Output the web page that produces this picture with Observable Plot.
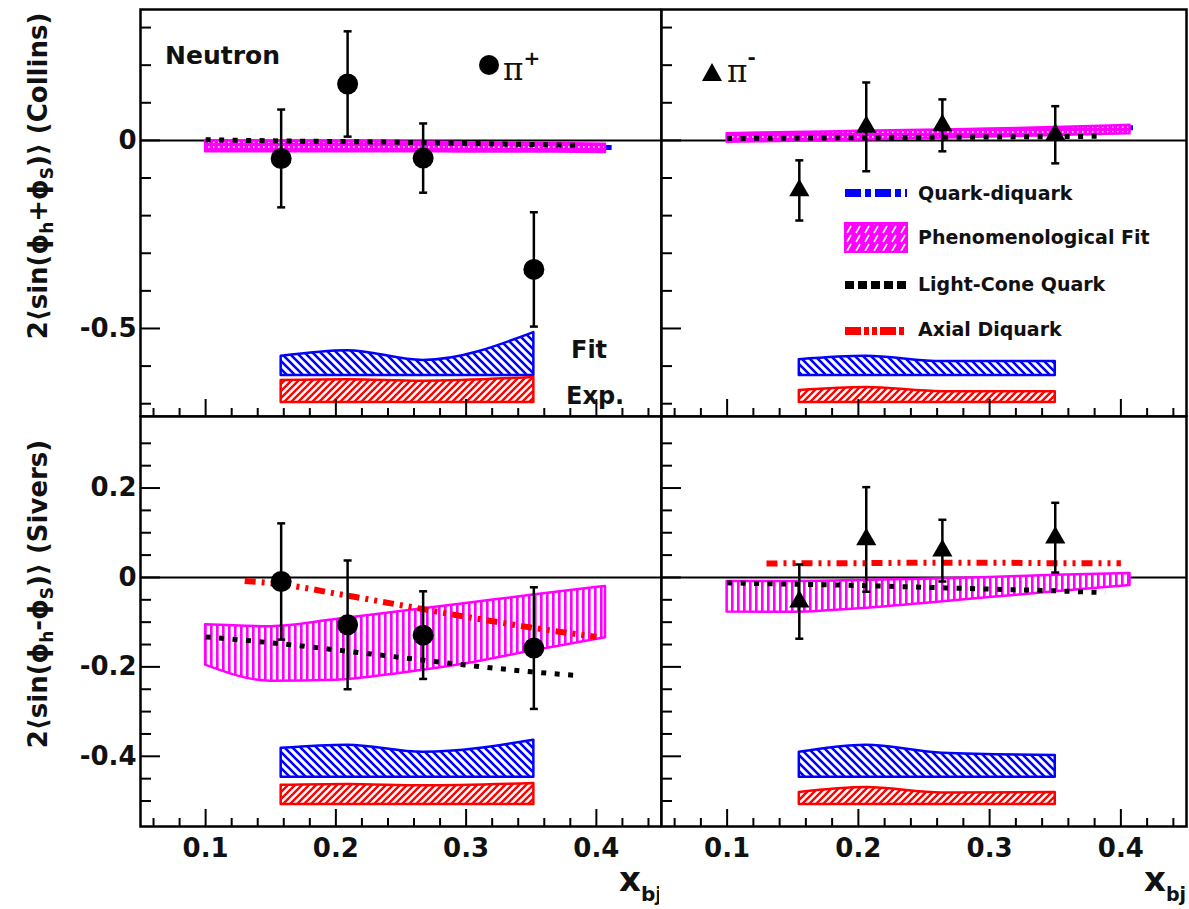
<!DOCTYPE html>
<html><head><meta charset="utf-8">
<script src="https://cdn.jsdelivr.net/npm/d3@7"></script>
<script src="https://cdn.jsdelivr.net/npm/@observablehq/plot@0.6"></script>
<style>
html,body{margin:0;padding:0;background:#fff;}
#wrap{position:relative;width:1189px;height:909px;overflow:hidden;background:#fff;}
#overlay{position:absolute;left:0;top:0;z-index:2;pointer-events:none;}
</style></head>
<body>
<div id="wrap">
<svg width="0" height="0" style="position:absolute">
<defs>
 <pattern id="hatchBlue" patternUnits="userSpaceOnUse" width="8" height="8">
   <rect width="8" height="8" fill="#fff"/>
   <path d="M0,0 L8,8 M-2,6 L2,10 M6,-2 L10,2" stroke="#0000ff" stroke-width="2.6"/>
 </pattern>
 <pattern id="hatchRed" patternUnits="userSpaceOnUse" width="7" height="7">
   <rect width="7" height="7" fill="#fff"/>
   <path d="M0,7 L7,0 M-2,2 L2,-2 M5,9 L9,5" stroke="#ff0000" stroke-width="2.4"/>
 </pattern>
 <pattern id="hatchMag" patternUnits="userSpaceOnUse" width="6" height="6">
   <rect width="6" height="6" fill="#fff"/>
   <rect x="0" width="2.6" height="6" fill="#ff00ff"/>
 </pattern>
 <pattern id="hatchMagDense" patternUnits="userSpaceOnUse" width="5" height="5">
   <rect width="5" height="5" fill="#ff00ff"/>
   <rect x="3" y="1" width="1.5" height="2" fill="#ffd0ff"/>
 </pattern>
 <pattern id="hatchMagLegend" patternUnits="userSpaceOnUse" width="9" height="9">
   <rect width="9" height="9" fill="#ff00ff"/>
   <path d="M1,8 L5,1" stroke="#fff" stroke-width="1.6"/>
 </pattern>
</defs></svg>

<svg id="overlay" width="1189" height="909" font-family="DejaVu Sans" font-weight="bold" fill="#111">
  <defs><clipPath id="clipL"><rect x="0" y="0" width="659" height="909"/></clipPath></defs>
  <!-- panel annotations -->
  <text x="165" y="64" font-size="25">Neutron</text>
  <circle cx="489" cy="65" r="10" fill="#000"/>
  <text x="503" y="80" font-size="31" font-family="DejaVu Serif" font-weight="normal">π<tspan dy="-15" font-size="20" font-family="DejaVu Sans" font-weight="bold">+</tspan></text>
  <path d="M702,81 L722,81 L712,63 Z" fill="#000"/>
  <text x="727" y="82" font-size="31" font-family="DejaVu Serif" font-weight="normal">π<tspan dy="-18" font-size="20" font-family="DejaVu Sans" font-weight="bold">-</tspan></text>
  <text x="571" y="358" font-size="24">Fit</text>
  <text x="566" y="404" font-size="24">Exp.</text>
  <!-- legend -->
  <line x1="845" x2="907" y1="193" y2="193" stroke="#0000ff" stroke-width="8" stroke-dasharray="16,4,6,4"/>
  <text x="918" y="200" font-size="19">Quark-diquark</text>
  <rect x="845" y="223" width="62" height="29" fill="url(#hatchMagLegend)" stroke="#ff00ff" stroke-width="2"/>
  <text x="918" y="244" font-size="19">Phenomenological Fit</text>
  <line x1="845" x2="907" y1="285" y2="285" stroke="#000" stroke-width="8" stroke-dasharray="9,4"/>
  <text x="918" y="291" font-size="19">Light-Cone Quark</text>
  <line x1="845" x2="907" y1="331" y2="331" stroke="#ff0000" stroke-width="8" stroke-dasharray="16,3,5,3,5,3"/>
  <text x="918" y="336" font-size="19">Axial Diquark</text>
  <!-- y titles -->
  <text transform="translate(47,176) rotate(-90)" text-anchor="middle" font-size="26">2⟨sin(ϕ<tspan font-size="17" dy="6">h</tspan><tspan dy="-6">+ϕ</tspan><tspan font-size="17" dy="6">S</tspan><tspan dy="-6">)⟩ (Collins)</tspan></text>
  <text transform="translate(47,594) rotate(-90)" text-anchor="middle" font-size="26">2⟨sin(ϕ<tspan font-size="17" dy="6">h</tspan><tspan dy="-6">-ϕ</tspan><tspan font-size="17" dy="6">S</tspan><tspan dy="-6">)⟩ (Sivers)</tspan></text>
  <!-- x titles -->
  <g clip-path="url(#clipL)"><text x="619" y="891" font-size="34">x<tspan font-size="20" dy="10">bj</tspan></text></g>
  <text x="1144" y="891" font-size="34">x<tspan font-size="19" dy="10">bj</tspan></text>
</svg>
</div>
<script>
// ---------------- data ----------------
const xPiPlus  = [0.158, 0.209, 0.267, 0.352];
const xPiMinus = [0.155, 0.206, 0.264, 0.350];

const collinsPiPlus     = [-0.048, 0.150, -0.047, -0.343];
const collinsPiPlusErr  = [0.130, 0.140, 0.092, 0.152];
const collinsPiMinus    = [-0.133, 0.036, 0.040, 0.015];
const collinsPiMinusErr = [0.080, 0.118, 0.069, 0.076];
const siversPiPlus      = [-0.009, -0.106, -0.129, -0.158];
const siversPiPlusErr   = [0.130, 0.144, 0.098, 0.136];
const siversPiMinus     = [-0.054, 0.085, 0.060, 0.089];
const siversPiMinusErr  = [0.083, 0.117, 0.069, 0.078];

// systematic error bands: Fit (blue) and Exp. (red)
const collinsFitBase = -0.625, collinsExpBase = -0.697;
const siversFitBase  = -0.447, siversExpBase  = -0.508;
const collinsPiPlusFitTop  = [-0.574, -0.559, -0.585, -0.511];
const collinsPiPlusExpTop  = [-0.638, -0.636, -0.640, -0.630];
const collinsPiMinusFitTop = [-0.583, -0.574, -0.588, -0.588];
const collinsPiMinusExpTop = [-0.665, -0.657, -0.668, -0.668];
const siversPiPlusFitTop   = [-0.382, -0.375, -0.391, -0.364];
const siversPiPlusExpTop   = [-0.465, -0.463, -0.466, -0.461];
const siversPiMinusFitTop  = [-0.391, -0.375, -0.393, -0.398];
const siversPiMinusExpTop  = [-0.481, -0.470, -0.482, -0.481];

// model curves
const xPheno        = [0.10, 0.15, 0.20, 0.25, 0.30, 0.35, 0.407];
const xLightCone    = [0.10, 0.15, 0.20, 0.25, 0.30, 0.35, 0.388];
const xQuarkDiquark = [0.10, 0.15, 0.20, 0.25, 0.30, 0.35, 0.412];
const xAxial        = [0.13, 0.16, 0.20, 0.25, 0.30, 0.35, 0.40];

const collinsPiPlusPhenoHi  = [-0.001, -0.002, -0.003, -0.004, -0.006, -0.008, -0.010];
const collinsPiPlusPhenoLo  = [-0.030, -0.030, -0.030, -0.030, -0.031, -0.031, -0.032];
const collinsPiPlusLC       = [0.002, -0.001, -0.003, -0.005, -0.008, -0.011, -0.013];
const collinsPiPlusQD       = [-0.012, -0.013, -0.014, -0.015, -0.016, -0.017, -0.019];

const collinsPiMinusPhenoHi = [0.018, 0.021, 0.024, 0.027, 0.030, 0.034, 0.040];
const collinsPiMinusPhenoLo = [-0.005, -0.002, 0.001, 0.005, 0.009, 0.013, 0.018];
const collinsPiMinusLC      = [0.005, 0.006, 0.007, 0.008, 0.009, 0.010, 0.011];
const collinsPiMinusQD      = [0.008, 0.011, 0.014, 0.018, 0.022, 0.027, 0.034];

const siversPiPlusPhenoHi   = [-0.106, -0.110, -0.094, -0.076, -0.058, -0.040, -0.020];
const siversPiPlusPhenoLo   = [-0.196, -0.232, -0.230, -0.214, -0.193, -0.165, -0.135];
const siversPiPlusLC        = [-0.133, -0.146, -0.162, -0.179, -0.196, -0.211, -0.220];
const siversPiPlusAxial     = [-0.008, -0.016, -0.036, -0.062, -0.088, -0.112, -0.133];

const siversPiMinusPhenoHi  = [-0.009, -0.009, -0.007, -0.004, 0.000, 0.005, 0.009];
const siversPiMinusPhenoLo  = [-0.077, -0.078, -0.070, -0.058, -0.045, -0.032, -0.018];
const siversPiMinusLC       = [-0.012, -0.015, -0.018, -0.022, -0.026, -0.030, -0.034];
const siversPiMinusAxial    = [0.031, 0.032, 0.032, 0.033, 0.033, 0.032, 0.032];

// axis ticks
const xMajor = [0.1, 0.2, 0.3, 0.4];
const xMinor = [0.06,0.08,0.12,0.14,0.16,0.18,0.22,0.24,0.26,0.28,0.32,0.34,0.36,0.38,0.42,0.44];
const collinsYMajor = [0, -0.5];
const collinsYMinor = [0.3,0.2,0.1,-0.1,-0.2,-0.3,-0.4,-0.6,-0.7];
const siversYMajor = [0.2, 0, -0.2, -0.4];
const siversYMinor = [0.3,0.25,0.15,0.1,0.05,-0.05,-0.1,-0.15,-0.25,-0.3,-0.35,-0.45,-0.5];

// ---------------- helpers ----------------
const series = (xs, ys) => xs.map((x, i) => ({x, y: ys[i]}));
const band = (xs, lo, hi) => xs.map((x, i) => ({x, y1: Array.isArray(lo) ? lo[i] : lo, y2: hi[i]}));
const points = (xs, ys, es) => xs.map((x, i) => ({x, y: ys[i], e: es[i]}));
const capSymbol = {draw(ctx, size) { const r = Math.sqrt(size / Math.PI); ctx.moveTo(-r, 0); ctx.lineTo(r, 0); }};
const FONT = "DejaVu Sans";

function sysBands(xs, fitTop, fitBase, expTop, expBase) {
  return [
    Plot.areaY(band(xs, fitBase, fitTop), {x: "x", y1: "y1", y2: "y2", fill: "url(#hatchBlue)", stroke: "#0000ff", strokeWidth: 2.5, curve: "monotone-x"}),
    Plot.areaY(band(xs, expBase, expTop), {x: "x", y1: "y1", y2: "y2", fill: "url(#hatchRed)", stroke: "#ff0000", strokeWidth: 2.5, curve: "monotone-x"})
  ];
}
function dataMarks(xs, ys, es, symbol, r) {
  const d = points(xs, ys, es);
  return [
    Plot.ruleX(d, {x: "x", y1: p => p.y - p.e, y2: p => p.y + p.e, stroke: "black", strokeWidth: 2.5}),
    Plot.dot(d, {x: "x", y: p => p.y + p.e, symbol: capSymbol, r: 4, fill: "none", stroke: "black", strokeWidth: 2.5}),
    Plot.dot(d, {x: "x", y: p => p.y - p.e, symbol: capSymbol, r: 4, fill: "none", stroke: "black", strokeWidth: 2.5}),
    Plot.dot(d, {x: "x", y: "y", symbol, r, fill: "black", stroke: "none"})
  ];
}
const phenoBand = (hi, lo, fill) => Plot.areaY(band(xPheno, lo, hi), {x: "x", y1: "y1", y2: "y2", fill, stroke: "#ff00ff", strokeWidth: 2.5, curve: "monotone-x"});
const lineOpts = {x: "x", y: "y", curve: "monotone-x", strokeLinecap: "butt", strokeLinejoin: "miter"};
const lcLine = (ys) => Plot.line(series(xLightCone, ys), {...lineOpts, stroke: "black", strokeWidth: 5, strokeDasharray: "5,8.5"});
const qdLine = (ys) => Plot.line(series(xQuarkDiquark, ys), {...lineOpts, stroke: "#0000ff", strokeWidth: 5, strokeDasharray: "16,4,6,4"});
const axLine = (ys) => Plot.line(series(xAxial, ys), {...lineOpts, stroke: "#ff0000", strokeWidth: 6, strokeDasharray: "11,6,3,6,3,6"});

const wrap = document.getElementById("wrap");
function panel({left, top, width, height, mL, mR, mT, mB, yDomain, yMajor, yMinor, yLabels, xLabels, marks}) {
  const fw = width - mL - mR, fh = height - mT - mB;
  const p = Plot.plot({
    width, height, marginLeft: mL, marginRight: mR, marginTop: mT, marginBottom: mB,
    x: {domain: [0.05, 0.45], axis: null, label: null},
    y: {domain: yDomain, axis: null, label: null},
    style: {background: "transparent", fontFamily: FONT},
    marks: [
      Plot.ruleY([0], {stroke: "black", strokeWidth: 2}),
      ...marks,
      Plot.tickY(yMinor, {y: d => d, insetRight: fw - 11, stroke: "black", strokeWidth: 2}),
      Plot.tickY(yMajor, {y: d => d, insetRight: fw - 20, stroke: "black", strokeWidth: 2}),
      Plot.tickX(xMinor, {x: d => d, insetTop: fh - 8, stroke: "black", strokeWidth: 2}),
      Plot.tickX(xMajor, {x: d => d, insetTop: fh - 17, stroke: "black", strokeWidth: 2}),
      yLabels ? Plot.axisY(yMajor, {anchor: "left", label: null, tickSize: 0, tickPadding: 4, tickFormat: d => String(d), fontSize: 26, fontWeight: "bold", fill: "#111"}) : null,
      xLabels ? Plot.axisX(xMajor, {anchor: "bottom", label: null, tickSize: 0, tickPadding: 12, tickFormat: d => String(d), fontSize: 26, fontWeight: "bold", fill: "#111"}) : null,
      Plot.frame({stroke: "black", strokeWidth: 2.5})
    ]
  });
  p.style.position = "absolute";
  p.style.left = left + "px";
  p.style.top = top + "px";
  wrap.appendChild(p);
}

const topGeom = {top: 0, height: 417, mT: 9, mB: 1, yDomain: [-0.734, 0.348], yMajor: collinsYMajor, yMinor: collinsYMinor};
const botGeom = {top: 415, height: 494, mT: 1, mB: 83, yDomain: [-0.557, 0.36], yMajor: siversYMajor, yMinor: siversYMinor};
const leftGeom = {left: 0, width: 661, mL: 140, mR: 0};
const rightGeom = {left: 659, width: 530, mL: 2, mR: 3};

// Collins pi+
panel({...topGeom, ...leftGeom, yLabels: true, xLabels: false, marks: [
  ...sysBands(xPiPlus, collinsPiPlusFitTop, collinsFitBase, collinsPiPlusExpTop, collinsExpBase),
  qdLine(collinsPiPlusQD),
  phenoBand(collinsPiPlusPhenoHi, collinsPiPlusPhenoLo, "url(#hatchMagDense)"),
  lcLine(collinsPiPlusLC),
  ...dataMarks(xPiPlus, collinsPiPlus, collinsPiPlusErr, "circle", 10.5)
]});
// Collins pi-
panel({...topGeom, ...rightGeom, yLabels: false, xLabels: false, marks: [
  ...sysBands(xPiMinus, collinsPiMinusFitTop, collinsFitBase, collinsPiMinusExpTop, collinsExpBase),
  qdLine(collinsPiMinusQD),
  phenoBand(collinsPiMinusPhenoHi, collinsPiMinusPhenoLo, "url(#hatchMagDense)"),
  lcLine(collinsPiMinusLC),
  ...dataMarks(xPiMinus, collinsPiMinus, collinsPiMinusErr, "triangle", 7.5)
]});
// Sivers pi+
panel({...botGeom, ...leftGeom, yLabels: true, xLabels: true, marks: [
  ...sysBands(xPiPlus, siversPiPlusFitTop, siversFitBase, siversPiPlusExpTop, siversExpBase),
  phenoBand(siversPiPlusPhenoHi, siversPiPlusPhenoLo, "url(#hatchMag)"),
  lcLine(siversPiPlusLC),
  axLine(siversPiPlusAxial),
  ...dataMarks(xPiPlus, siversPiPlus, siversPiPlusErr, "circle", 10.5)
]});
// Sivers pi-
panel({...botGeom, ...rightGeom, yLabels: false, xLabels: true, marks: [
  ...sysBands(xPiMinus, siversPiMinusFitTop, siversFitBase, siversPiMinusExpTop, siversExpBase),
  phenoBand(siversPiMinusPhenoHi, siversPiMinusPhenoLo, "url(#hatchMag)"),
  lcLine(siversPiMinusLC),
  axLine(siversPiMinusAxial),
  ...dataMarks(xPiMinus, siversPiMinus, siversPiMinusErr, "triangle", 7.5)
]});
</script>
</body></html>
